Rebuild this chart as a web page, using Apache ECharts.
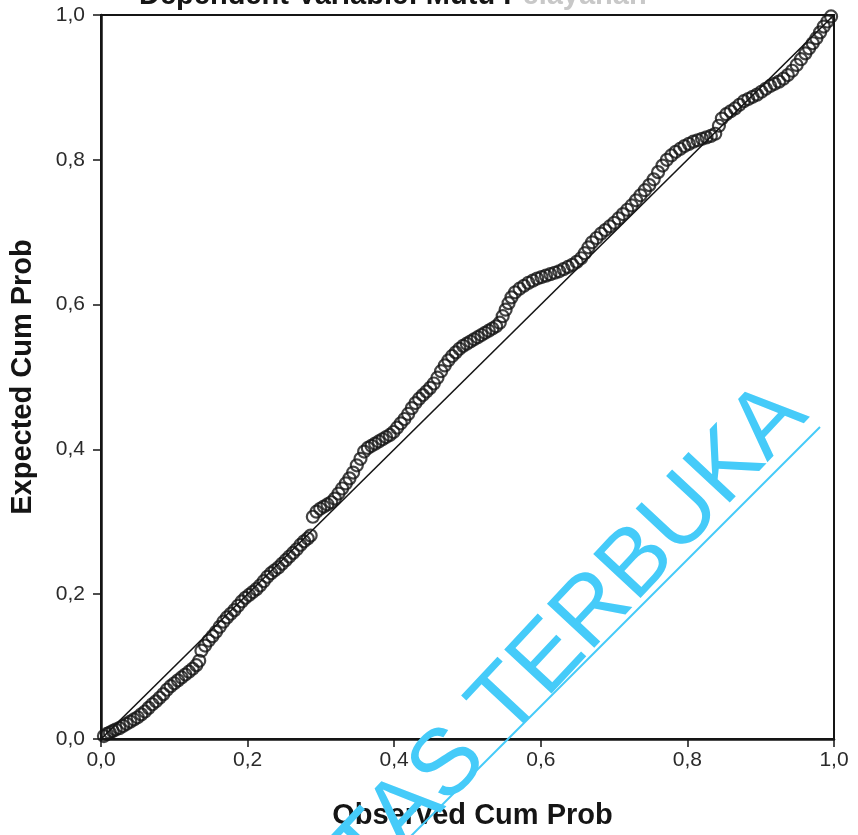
<!DOCTYPE html>
<html>
<head>
<meta charset="utf-8">
<script src="https://cdn.jsdelivr.net/npm/echarts@6/dist/echarts.min.js"></script>
<style>
  html, body { margin: 0; padding: 0; background: #fff; }
  #chart { width: 858px; height: 835px; }
</style>
</head>
<body>
<div id="chart"></div>
<script>
// P-P plot: observed vs expected cumulative probability
const observedProb = [
  0.004, 0.008, 0.012, 0.016, 0.020, 0.025, 0.030, 0.035, 0.040, 0.045,
  0.050, 0.055, 0.060, 0.065, 0.070, 0.075, 0.080, 0.085, 0.090, 0.095,
  0.100, 0.105, 0.110, 0.115, 0.120, 0.125, 0.130, 0.134, 0.137, 0.142,
  0.147, 0.152, 0.157, 0.162, 0.167, 0.172, 0.177, 0.182, 0.187, 0.192,
  0.197, 0.202, 0.207, 0.212, 0.217, 0.222, 0.227, 0.232, 0.237, 0.242,
  0.247, 0.252, 0.257, 0.262, 0.267, 0.272, 0.277, 0.282, 0.286, 0.289,
  0.294, 0.299, 0.304, 0.309, 0.314, 0.319, 0.324, 0.329, 0.334, 0.339,
  0.344, 0.349, 0.354, 0.359, 0.364, 0.369, 0.374, 0.379, 0.384, 0.389,
  0.394, 0.399, 0.404, 0.409, 0.414, 0.419, 0.424, 0.429, 0.434, 0.439,
  0.444, 0.449, 0.454, 0.459, 0.464, 0.469, 0.474, 0.479, 0.484, 0.489,
  0.494, 0.499, 0.504, 0.509, 0.514, 0.519, 0.524, 0.529, 0.534, 0.539,
  0.544, 0.548, 0.552, 0.556, 0.560, 0.565, 0.571, 0.577, 0.583, 0.589,
  0.595, 0.601, 0.607, 0.613, 0.619, 0.625, 0.631, 0.637, 0.643, 0.649,
  0.655, 0.660, 0.665, 0.670, 0.676, 0.682, 0.688, 0.694, 0.700, 0.706,
  0.712, 0.718, 0.724, 0.730, 0.736, 0.742, 0.748, 0.754, 0.760, 0.766,
  0.772, 0.778, 0.784, 0.790, 0.796, 0.802, 0.808, 0.814, 0.820, 0.826,
  0.832, 0.838, 0.843, 0.847, 0.853, 0.859, 0.865, 0.871, 0.877, 0.883,
  0.889, 0.895, 0.901, 0.907, 0.913, 0.919, 0.925, 0.931, 0.937, 0.943,
  0.949, 0.955, 0.961, 0.966, 0.971, 0.976, 0.981, 0.986, 0.991, 0.996
];
const expectedProb = [
  0.004, 0.007, 0.009, 0.011, 0.013, 0.015, 0.018, 0.021, 0.024, 0.027,
  0.030, 0.034, 0.038, 0.043, 0.048, 0.052, 0.057, 0.062, 0.068, 0.073,
  0.077, 0.081, 0.085, 0.089, 0.093, 0.097, 0.102, 0.108, 0.122, 0.129,
  0.136, 0.142, 0.148, 0.155, 0.162, 0.168, 0.173, 0.178, 0.184, 0.190,
  0.195, 0.199, 0.203, 0.207, 0.212, 0.218, 0.224, 0.229, 0.233, 0.237,
  0.242, 0.247, 0.252, 0.257, 0.262, 0.268, 0.273, 0.277, 0.281, 0.307,
  0.314, 0.318, 0.321, 0.324, 0.327, 0.332, 0.339, 0.346, 0.353, 0.360,
  0.368, 0.378, 0.387, 0.397, 0.402, 0.405, 0.408, 0.411, 0.414, 0.417,
  0.420, 0.424, 0.430, 0.436, 0.442, 0.449, 0.457, 0.464, 0.470, 0.475,
  0.480, 0.485, 0.491, 0.499, 0.508, 0.516, 0.523, 0.529, 0.534, 0.539,
  0.543, 0.546, 0.549, 0.552, 0.555, 0.558, 0.561, 0.564, 0.567, 0.570,
  0.575, 0.584, 0.593, 0.602, 0.610, 0.617, 0.622, 0.626, 0.630, 0.633,
  0.636, 0.638, 0.640, 0.642, 0.644, 0.646, 0.649, 0.652, 0.655, 0.659,
  0.664, 0.671, 0.679, 0.686, 0.692, 0.698, 0.703, 0.708, 0.713, 0.719,
  0.725, 0.731, 0.737, 0.744, 0.751, 0.758, 0.765, 0.773, 0.783, 0.792,
  0.800, 0.806, 0.811, 0.815, 0.819, 0.822, 0.825, 0.827, 0.829, 0.831,
  0.833, 0.836, 0.847, 0.857, 0.863, 0.867, 0.871, 0.876, 0.881, 0.884,
  0.887, 0.890, 0.894, 0.898, 0.902, 0.905, 0.908, 0.912, 0.917, 0.923,
  0.931, 0.939, 0.947, 0.954, 0.961, 0.968, 0.976, 0.984, 0.991, 0.998
];
// reference diagonal
const refLineX = [0, 1];
const refLineY = [0, 1];

const chart = echarts.init(document.getElementById('chart'));

const fontFamily = '"Liberation Sans", Arial, sans-serif';
const ink = '#151515';
const cyan = '#45CBF9';

function fmtTick(v) {
  return v.toFixed(1).replace('.', ',');
}

const axisCommon = {
  type: 'value',
  min: 0,
  max: 1,
  interval: 0.2,
  splitLine: { show: false },
  axisLine: { show: true, lineStyle: { color: ink, width: 2.5 } },
  axisTick: { show: true, inside: false, length: 8, lineStyle: { color: ink, width: 1.5 } },
  nameLocation: 'middle',
  nameTextStyle: { fontFamily: fontFamily, fontWeight: 'bold', fontSize: 29, color: ink }
};

const option = {
  backgroundColor: '#fff',
  animation: false,
  title: {
    left: 134,
    top: -24,
    text: '{a|Dependent Variable: Mutu P}{b|elayanan}',
    textStyle: {
      rich: {
        a: { fontFamily: fontFamily, fontWeight: 'bold', fontSize: 29, color: ink },
        b: { fontFamily: fontFamily, fontWeight: 'bold', fontSize: 29, color: '#c8c8c8' }
      }
    }
  },
  grid: {
    left: 101,
    right: 24,
    top: 15,
    bottom: 86,
    show: true,
    borderColor: ink,
    borderWidth: 2,
    backgroundColor: '#fff'
  },
  xAxis: Object.assign({}, axisCommon, {
    name: 'Observed Cum Prob',
    nameGap: 62,
    nameTextStyle: Object.assign({}, axisCommon.nameTextStyle, { padding: [0, 0, 0, 10] }),
    axisLabel: { margin: 11, formatter: fmtTick, fontFamily: fontFamily, fontSize: 21, color: '#2a2a2a' }
  }),
  yAxis: Object.assign({}, axisCommon, {
    name: 'Expected Cum Prob',
    nameGap: 64,
    nameRotate: 90,
    axisLabel: { margin: 16, formatter: fmtTick, fontFamily: fontFamily, fontSize: 21, color: '#2a2a2a' }
  }),
  series: [
    {
      type: 'line',
      data: refLineX.map((x, i) => [x, refLineY[i]]),
      symbol: 'none',
      lineStyle: { color: ink, width: 1.6 },
      z: 2
    },
    {
      type: 'scatter',
      data: observedProb.map((x, i) => [x, expectedProb[i]]),
      symbol: 'circle',
      symbolSize: 12,
      itemStyle: { color: 'rgba(0,0,0,0)', borderColor: ink, borderWidth: 2.2 },
      z: 3
    }
  ],
  graphic: [
    {
      type: 'line',
      z: 100,
      shape: { x1: 404, y1: 843, x2: 820, y2: 427 },
      style: { stroke: cyan, lineWidth: 2 }
    },
    {
      type: 'text',
      z: 100,
      x: 791,
      y: 399,
      rotation: 0.82,
      style: {
        text: 'UNIVERSITAS TERBUKA',
        font: '94px "Liberation Sans", Arial, sans-serif',
        fill: cyan,
        align: 'right',
        textAlign: 'right',
        verticalAlign: 'middle',
        textVerticalAlign: 'middle'
      }
    }
  ]
};

chart.setOption(option);
window.addEventListener('resize', () => chart.resize());
</script>
</body>
</html>
